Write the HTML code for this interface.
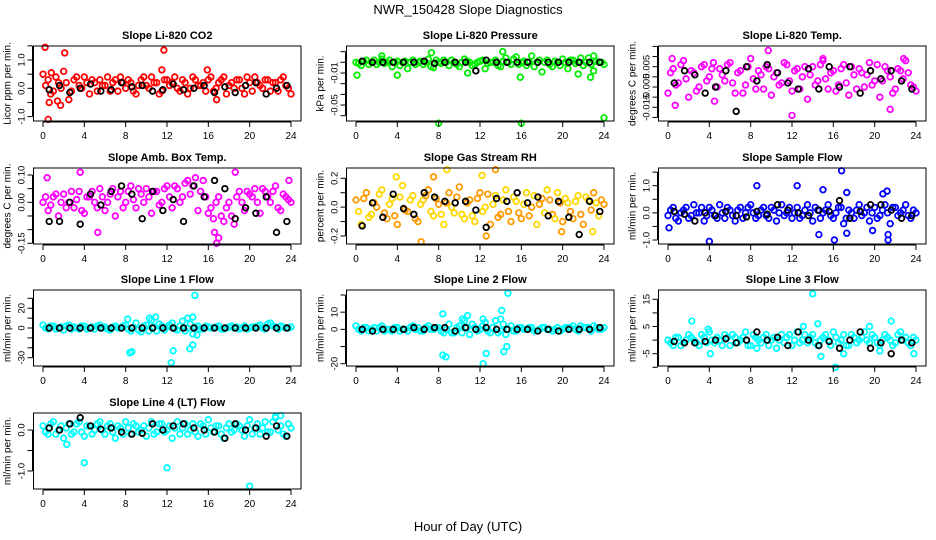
<!DOCTYPE html>
<html><head><meta charset="utf-8"><style>
body{margin:0;background:#fff;}
svg{display:block;font-family:"Liberation Sans",sans-serif;}
</style></head><body>
<svg id="chart" width="936" height="540" viewBox="0 0 936 540" xmlns="http://www.w3.org/2000/svg">
<rect width="936" height="540" fill="#fff"/>
<text x="468" y="14" text-anchor="middle" font-size="13">NWR_150428  Slope Diagnostics</text>
<text x="468" y="531" text-anchor="middle" font-size="13">Hour of Day (UTC)</text>
</svg>
<script>
const xTicks=[0,4,8,12,16,20,24];
// Li-820 CO2
const co2Col=[0.5,0.3,-0.1,0.2,0.6,-0.4,0.3,0.1,0.4,-0.2,0.2,0.3,0.1,-0.1,0.3,0.4,0.0,0.2,-0.2,0.3,0.1,0.4,0.2,-0.1,0.3,0.2,0.0,0.3,-0.2,0.4,0.1,0.2,0.3,-0.1,0.2,0.4,0.1,0.0,0.3,-0.2,0.2,0.4,0.1,0.3,-0.1,0.2,0.3,0.1,-0.2];
const co2Col2=[0.1,-0.2,0.4,0.0,0.2,-0.1,0.4,0.0,0.2,0.3,-0.1,0.1,0.4,0.2,-0.1,0.2,0.3,-0.1,0.1,0.4,0.0,0.2,-0.2,0.3,0.1,0.4,-0.1,0.2,0.0,0.3,0.1,-0.1,0.4,0.0,0.3,-0.2,0.2,0.3,0.0,0.4,-0.1,0.2,0.0,0.3,0.2,-0.1,0.4,0.0];
const co2OutX=[0.2,2.1,11.7,0.5,1.7,0.8,15.9,16.8,11.5,0.6,1.4];
const co2OutY=[1.45,1.25,1.35,-1.1,-0.6,0.55,0.65,-0.4,0.65,-0.5,-0.45];
const co2Blk=[-0.05,0.1,-0.15,0.0,0.15,-0.1,-0.05,0.2,0.05,0.1,-0.1,-0.05,0.15,-0.05,0.0,0.1,-0.15,0.05,-0.15,0.1,0.2,-0.2,0.0,0.1];
// Pressure
const prsCol=[0,-0.003,0.002,0,-0.002,0.003,0,-0.004,0.001,0,-0.006,0.002,0,-0.002,0.003,-0.005,0,0.002,-0.003,0,-0.004,0.003,0,-0.002,0.001,-0.006,0,0.002,-0.004,0.004,-0.002,0.005,0,-0.003,0.006,0,-0.009,0.002,-0.004,0,0.003,-0.006,0.002,0,-0.003,0.004,0.006,0,-0.002];
const prsCol2=[-0.001,0.001,-0.002,0.002,0,-0.001,0.002,0,-0.003,0.001,0,-0.002,0.001,0,-0.004,0.002,-0.001,0,0.002,-0.002,0,0.001,-0.003,0,0.002,-0.001,0,-0.003,0.001,0,0.003,-0.002,0.001,0,-0.004,0.002,0,-0.002,0.001,-0.003,0,0.002,-0.001,0.004,0,-0.002,0.001,0];
const prsOutX=[0.1,4,8,16,24,15.9,22.7,23,14.2,7.3,2.5,21.5,10.8];
const prsOutY=[-0.012,-0.012,-0.057,-0.057,-0.052,-0.014,-0.014,-0.008,0.01,0.009,0.006,-0.011,-0.01];
const prsBlk=[0.001,0,0,0,0,0,0.001,-0.001,0,0,0,-0.008,0.002,0,0,0,0,0,0,0,0,0,0,0];
// Temp
const tmpCol=[-0.008,0.004,-0.003,0.008,-0.01,0.002,-0.005,0.006,0,-0.012,0.004,-0.002,0.007,-0.008,0.003,-0.004,0.009,-0.006,0.001,0.005,-0.009,0.002,-0.003,0.006,-0.007,0.004,0,-0.011,0.005,-0.002,0.008,-0.006,0.003,-0.004,0.006,-0.009,0.001,0.004,-0.005,0.007,-0.002,-0.01,0.005,0,-0.006,0.003,0.008,-0.004,-0.007];
const tmpCol2=[0.002,-0.004,0.006,-0.001,0.003,-0.007,0.005,-0.002,0.004,-0.005,0.001,0.006,-0.003,0.002,-0.008,0.005,-0.001,0.003,-0.006,0.004,0,-0.004,0.007,-0.002,0.003,-0.006,0.005,0.001,-0.004,0.006,-0.001,0.002,-0.007,0.004,-0.003,0.005,-0.006,0.002,0.001,-0.004,0.006,-0.002,0.003,-0.008,0.004,-0.001,0.002,-0.005];
const tmpOutX=[0.4,9.7,15,22.8,12,0.7,21.5,4.4];
const tmpOutY=[0.009,0.013,0.009,0.009,-0.019,-0.014,-0.016,0.007];
const tmpBlk=[-0.003,0.003,0.001,-0.008,-0.005,0.003,-0.017,0.005,-0.002,0.006,0.002,-0.003,-0.006,0.004,-0.006,0.005,-0.005,0.005,-0.008,0.003,-0.001,0.003,-0.002,-0.006];
// Amb box temp
const ambCol=[0.0,-0.03,0.02,-0.05,0.03,0.0,-0.02,0.04,-0.04,0.02,0.0,0.05,-0.03,0.03,-0.05,0.04,0.0,0.06,-0.02,0.03,0.05,-0.04,0.04,0.0,0.06,-0.02,0.05,0.02,0.08,0.06,-0.03,0.08,-0.04,-0.06,0.02,-0.07,0.0,-0.08,0.04,-0.03,0.03,0.05,-0.04,0.04,0.0,0.06,-0.03,0.02,0.0];
const ambCol2=[0.02,-0.01,0.03,0.0,-0.02,0.04,0.01,-0.03,0.02,0.04,-0.02,0.02,0.0,0.05,0.02,-0.02,0.04,0.01,0.05,0.0,0.02,0.04,-0.01,0.05,0.02,0.06,0.0,0.07,0.03,0.09,0.04,0.02,-0.02,0.0,-0.05,-0.02,-0.05,0.02,0.0,0.04,0.02,0.0,0.05,0.02,0.04,-0.02,0.03,0.01];
const ambOutX=[0.4,3.6,5.3,16.8,17,18.6,23.8,16.6];
const ambOutY=[0.09,0.11,-0.11,-0.15,-0.13,0.11,0.08,-0.11];
const ambBlk=[-0.07,-0.07,0.0,-0.08,0.03,-0.01,0.04,0.06,0.03,-0.06,0.04,-0.03,0.01,-0.07,0.06,0.02,0.08,0.05,-0.06,-0.02,-0.04,0.02,-0.11,-0.07];
// RH
const rhCol=[0.05,-0.12,0.1,-0.05,0.0,0.12,-0.08,0.06,-0.12,0.15,-0.03,0.08,-0.1,0.05,0.12,-0.06,0.02,-0.12,0.1,-0.04,0.14,-0.08,0.05,-0.1,0.1,0.0,-0.12,0.08,-0.05,0.12,-0.1,0.04,-0.08,0.1,0.0,-0.12,0.06,0.12,-0.05,0.1,-0.1,0.03,-0.08,0.08,-0.12,0.05,0.1,-0.06,0.02];
const rhCol2=[-0.03,0.06,-0.07,0.03,0.09,-0.04,0.02,-0.06,0.07,-0.02,0.05,-0.08,0.02,0.08,-0.03,0.06,-0.05,0.03,0.0,0.07,-0.05,0.03,-0.06,0.06,-0.03,0.09,0.02,-0.07,0.05,-0.03,0.07,-0.04,0.02,-0.06,0.08,0.02,-0.04,0.05,-0.08,0.03,0.06,-0.03,0.04,-0.05,0.07,-0.02,0.03,0.05];
const rhOutX=[6.3,8.8,13.5,12.2,12.6,3.9,7.5,22.9,19.9];
const rhOutY=[-0.24,0.26,0.26,0.22,-0.2,0.21,0.21,-0.17,-0.17];
const rhBlk=[-0.13,0.03,-0.07,0.09,-0.01,-0.05,0.1,0.07,0.04,0.03,0.04,-0.02,-0.14,0.06,0.04,0.1,0.03,0.07,-0.06,0.04,-0.07,-0.19,0.04,-0.03];
// Sample flow
const sfCol=[-0.1,0.2,-0.3,0.1,-0.2,0.3,0.0,-0.3,0.2,-0.1,0.3,-0.2,0.1,-0.3,0.2,0.0,0.3,-0.2,0.1,-0.1,0.2,-0.3,0.3,0.0,-0.2,0.2,-0.1,0.3,-0.3,0.1,0.0,0.3,-0.2,0.2,-0.4,0.1,-0.2,0.3,0.0,-0.3,0.2,-0.1,0.3,-0.4,0.2,0.0,0.3,-0.2,0.0];
const sfCol2=[0.1,-0.2,0.0,0.2,-0.1,0.0,0.2,-0.1,0.1,-0.2,0.0,0.2,-0.1,0.1,-0.2,0.2,0.0,-0.1,0.2,-0.2,0.1,0.0,-0.1,0.2,0.0,-0.2,0.1,0.0,0.2,-0.2,0.1,-0.1,0.0,0.2,-0.2,0.0,0.1,-0.1,0.2,0.0,-0.2,0.1,0.0,0.2,-0.1,0.1,-0.1,0.1];
const sfOutX=[4,8.6,12.5,16.8,17.3,15,21.2,20.8,16.1,21.3,21.3,14.6,19.8,0.1,17.3];
const sfOutY=[-1.05,1.0,1.0,1.55,0.75,0.85,0.8,0.7,-1.0,-1.0,-0.8,-0.8,-0.65,-0.55,-0.75];
const sfBlk=[0.05,-0.05,-0.3,0.0,-0.1,0.05,-0.1,-0.15,0.05,-0.05,0.3,0.1,0.0,-0.1,0.1,0.05,0.45,-0.2,0.05,0.3,0.3,0.1,-0.2,-0.1];
// Line 1
const l1Col=[3,-1,2,0,-2,3,1,-1,2,0,-1,3,1,-2,2,0,3,-3,5,-4,3,8,-3,2,1,5,-2,7,0,-6,2,-1,1,0,2,-1,1,0,-1,2,0,1,3,-1,5,1,2,0,1];
const l1Col2=[0,2,-1,1,2,-1,0,2,-1,1,2,0,-1,1,0,2,-1,1,-2,2,-3,1,4,-2,3,-1,2,-3,4,1,-1,2,0,1,-1,0,2,1,0,-1,1,2,0,4,2,-1,1,0];
const l1OutX=[8.4,8.6,12.4,12.6,14.2,14.5,14.7,10.3,10.9,14.0,14.5,8.2,14.9];
const l1OutY=[-25,-24,-35,-23,-21,-17,33,10,11,10,11,9,-7];
const l1Blk=[0,0,0,0,0,0,0,0,0,0,0,0,0,0,0,0,0,0,0,0,0,0,0,0];
// Line 2
const l2Col=[2,-1,1,0,-1,2,0,-1,1,0,-1,2,1,-1,2,0,1,-2,3,-2,2,5,-3,1,0,4,-2,5,-1,-3,2,-1,1,0,1,-1,1,0,-1,1,0,1,2,-1,1,1,2,0,1];
const l2Col2=[0,1,-1,1,1,-1,0,1,-1,0,1,0,-1,1,0,1,-1,0,-2,1,-2,1,3,-1,2,-1,1,-2,3,0,-1,1,0,1,-1,0,1,0,0,-1,1,1,0,2,1,-1,1,0];
const l2OutX=[8.4,8.7,8.4,12.3,12.6,14.3,14.6,14.7,14.1,10.3,10.8,14,12.3];
const l2OutY=[-15,-16,9,-20,-14,-13,-10,21,11,6,8,6,6];
const l2Blk=[0,-1,0,0,0,1,0,1,1,-1,1,0,1,0,0,0,0,-1,0,-1,0,0,0,1];
// Line 3
const l3Col=[0,-2,1,-1,2,0,-2,1,3,-1,0,2,-2,1,0,3,-2,1,-1,2,0,-3,2,1,-2,3,0,-1,2,-2,1,0,3,-1,2,-2,1,0,3,-1,1,-2,2,0,-1,3,1,-2,0];
const l3Col2=[-1,1,-2,0,1,-1,2,-1,0,1,-2,1,2,-1,1,-2,2,0,1,-2,1,0,-1,2,0,-1,2,1,-1,0,2,-2,1,0,-2,2,-1,1,0,2,-1,0,1,-2,2,0,-1,1];
const l3OutX=[2.3,14,14.5,13.1,21.6,19.5,4.1,16.2,14.8,17,20.5,3.9,23.8,8.6];
const l3OutY=[7,17,6,5,7,5,-5,-10,-6,-5,-4,4,-5,-3];
const l3Blk=[-0.5,-1,-1,-0.5,0,0.5,-1,0,3,0,1,-2,3,0,-2,-0.5,-3,0,3,-3,-1,-5,0,-1];
// Line 4
const l4Col=[0.1,-0.1,0.2,0.0,-0.2,0.15,-0.05,0.2,-0.15,0.1,0.0,0.2,-0.1,0.15,-0.2,0.05,0.2,-0.1,0.1,0.0,-0.15,0.2,-0.05,0.15,0.0,-0.2,0.2,0.05,-0.1,0.15,-0.15,0.1,0.25,-0.05,0.1,-0.2,0.15,0.0,0.1,-0.15,0.25,0.05,-0.1,0.2,-0.05,0.3,0.1,-0.15,0.05];
const l4Col2=[-0.05,0.15,-0.1,0.1,0.05,-0.1,0.15,-0.05,0.1,-0.1,0.15,0.0,0.1,-0.05,0.1,-0.1,0.05,0.15,-0.05,0.1,0.05,-0.1,0.15,-0.05,0.1,0.05,-0.1,0.15,0.0,-0.05,0.15,-0.1,0.05,0.1,-0.1,0.05,-0.05,0.15,0.0,0.1,-0.1,0.15,0.05,-0.05,0.2,0.0,-0.1,0.15];
const l4OutX=[4,12,20,2.3,22.5,23];
const l4OutY=[-0.8,-0.92,-1.37,-0.35,0.33,0.35];
const l4Blk=[0.05,0.0,0.15,0.3,0.1,0.02,0.05,-0.05,-0.1,-0.08,0.15,0.0,0.1,0.15,0.05,0.0,-0.05,-0.2,0.15,0.0,0.05,-0.15,0.1,-0.15];

const NS='http://www.w3.org/2000/svg';
const svg=document.getElementById('chart');
function mk(tag,attrs,parent,txt){const e=document.createElementNS(NS,tag);for(const k in attrs)e.setAttribute(k,attrs[k]);if(txt!==undefined)e.textContent=txt;(parent||svg).appendChild(e);return e;}
const cols=[[43,291],[356,604],[668,916]];
const rows=[[46,121],[168,244],[290,366],[413,489]];
const panels=[
 {id:'co2',name:'Slope Li-820 CO2',ylab:'Licor ppm per min.',c:0,r:0,col:co2Col,col2:co2Col2,ox:co2OutX,oy:co2OutY,blk:co2Blk,m:[0,88.3,1,60],ticks:[-1,-0.5,0,0.5,1,1.5],labs:[[-1,'-1.0'],[0,'0.0'],[1,'1.0']],color:['#ff0000']},
 {id:'pressure',name:'Slope Li-820 Pressure',ylab:'kPa per min.',c:1,r:0,col:prsCol,col2:prsCol2,ox:prsOutX,oy:prsOutY,blk:prsBlk,m:[0,62.3,-0.05,115.7],ticks:[0.01,0,-0.01,-0.02,-0.03,-0.04,-0.05],labs:[[-0.01,'-0.01'],[-0.04,'-0.05']],color:['#00ee00']},
 {id:'temp',name:'Slope Li-820 Temp.',ylab:'degrees C per min.',c:2,r:0,col:tmpCol,col2:tmpCol2,ox:tmpOutX,oy:tmpOutY,blk:tmpBlk,m:[0.005,66.7,-0.015,107.3],ticks:[0.015,0.01,0.005,0,-0.005,-0.01,-0.015,-0.02],labs:[[0.005,'0.005'],[-0.005,'-0.005'],[-0.015,'-0.015']],color:['#ff00ff']},
 {id:'amb-temp',name:'Slope Amb. Box Temp.',ylab:'degrees C per min.',c:0,r:1,col:ambCol,col2:ambCol2,ox:ambOutX,oy:ambOutY,blk:ambBlk,m:[0.1,175,-0.15,243.3],ticks:[0.1,0.05,0,-0.05,-0.1,-0.15],labs:[[0.1,'0.10'],[0,'0.00'],[-0.15,'-0.15']],color:['#ff00ff']},
 {id:'rh',name:'Slope Gas Stream RH',ylab:'percent per min.',c:1,r:1,col:rhCol,col2:rhCol2,ox:rhOutX,oy:rhOutY,blk:rhBlk,m:[0.2,178.3,-0.2,236],ticks:[0.2,0.1,0,-0.1,-0.2],labs:[[0.2,'0.2'],[0,'0.0'],[-0.2,'-0.2']],color:['#ff9900','#ffd700']},
 {id:'sample-flow',name:'Slope Sample Flow',ylab:'ml/min per min.',c:2,r:1,col:sfCol,col2:sfCol2,ox:sfOutX,oy:sfOutY,blk:sfBlk,m:[1,185.7,-1,240],ticks:[1.5,1,0.5,0,-0.5,-1],labs:[[1,'1.0'],[0,'0.0'],[-1,'-1.0']],color:['#0000ff']},
 {id:'line1',name:'Slope Line 1 Flow',ylab:'ml/min per min.',c:0,r:2,col:l1Col,col2:l1Col2,ox:l1OutX,oy:l1OutY,blk:l1Blk,m:[30,298.3,-30,357.7],ticks:[30,20,10,0,-10,-20,-30],labs:[[20,'20'],[0,'0'],[-30,'-30']],color:['#00ffff']},
 {id:'line2',name:'Slope Line 2 Flow',ylab:'ml/min per min.',c:1,r:2,col:l2Col,col2:l2Col2,ox:l2OutX,oy:l2OutY,blk:l2Blk,m:[20,295,-20,363.7],ticks:[20,10,0,-10,-20],labs:[[10,'10'],[0,'0'],[-20,'-20']],color:['#00ffff']},
 {id:'line3',name:'Slope Line 3 Flow',ylab:'ml/min per min.',c:2,r:2,col:l3Col,col2:l3Col2,ox:l3OutX,oy:l3OutY,blk:l3Blk,m:[15,299.3,-10,367.3],ticks:[15,10,5,0,-5,-10],labs:[[15,'15'],[5,'5'],[-5,'-5']],color:['#00ffff']},
 {id:'line4',name:'Slope Line 4 (LT) Flow',ylab:'ml/min per min.',c:0,r:3,col:l4Col,col2:l4Col2,ox:l4OutX,oy:l4OutY,blk:l4Blk,m:[0,430,-1,471],ticks:[0,-0.5,-1],labs:[[0,'0.0'],[-1,'-1.0']],color:['#00ffff']}
];
panels.forEach(p=>{
 const [x0,x1]=cols[p.c],[t,b]=rows[p.r];
 const l=x0-9.5,r=x1+10;
 const xs=v=>x0+(v/24)*(x1-x0);
 const ys=v=>p.m[1]+(v-p.m[0])*(p.m[3]-p.m[1])/(p.m[2]-p.m[0]);
 const g=mk('g',{});
 
 
 const ti=mk('text',{x:(l+r)/2,y:t-7,'text-anchor':'middle','font-size':11,'font-weight':'bold'},g,p.name);
 
 
 const yl=mk('text',{transform:`translate(${l-23},${(t+b)/2}) rotate(-90)`,'text-anchor':'middle','font-size':10},g,p.ylab);
 
 
 const pts=mk('g',{fill:'none','stroke-width':1.8},g);
 
 
 p.col.forEach((v,i)=>{const c=mk('circle',{cx:xs(i*0.5),cy:ys(v),r:2.8,stroke:p.color[i%p.color.length]},pts);
  
  });
 p.col2.forEach((v,i)=>{const c=mk('circle',{cx:xs(i*0.5+0.25),cy:ys(v),r:2.8,stroke:p.color[(i+1)%p.color.length]},pts);
  
  });
 p.ox.forEach((v,i)=>{const c=mk('circle',{cx:xs(v),cy:ys(p.oy[i]),r:2.8,stroke:p.color[i%p.color.length]},pts);
  
  });
 p.blk.forEach((v,i)=>{const c=mk('circle',{cx:xs(0.6+i),cy:ys(v),r:2.8,stroke:'#000'},pts);
  
  });
 const bx=mk('rect',{x:l,y:t,width:r-l,height:b-t,fill:'none',stroke:'#000','stroke-width':1},g);
 
 
 const xa=mk('g',{stroke:'#000','stroke-width':1},g);
 
 
 mk('line',{x1:xs(0),x2:xs(24),y1:b+1,y2:b+1},xa);
 xTicks.forEach(v=>{mk('line',{x1:xs(v),x2:xs(v),y1:b+1,y2:b+6},xa);
  const tx=mk('text',{x:xs(v),y:b+18,'text-anchor':'middle','font-size':10,stroke:'none',fill:'#000'},xa,String(v));
  
  });
 const ya=mk('g',{stroke:'#000','stroke-width':1},g);
 
 
 const yv=p.ticks.map(ys);
 mk('line',{x1:l-1,x2:l-1,y1:Math.min(...yv),y2:Math.max(...yv)},ya);
 p.ticks.forEach(v=>mk('line',{x1:l-6,x2:l-1,y1:ys(v),y2:ys(v)},ya));
 p.labs.forEach(([v,s])=>{const tx=mk('text',{transform:`translate(${l-9},${ys(v)}) rotate(-90)`,'text-anchor':'middle','font-size':9.5,stroke:'none',fill:'#000'},ya,s);
  
  });
});
</script>
</body></html>
